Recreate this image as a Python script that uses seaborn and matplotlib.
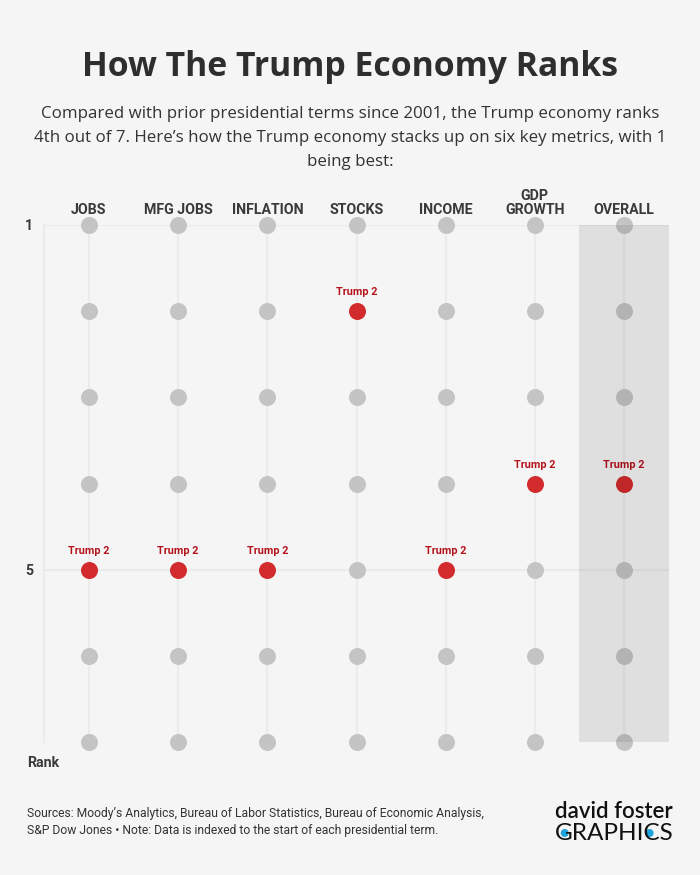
import numpy as np
import pandas as pd
import matplotlib.pyplot as plt
from matplotlib.patches import Circle
import seaborn as sns

# Data
metrics = ["JOBS", "MFG JOBS", "INFLATION", "STOCKS", "INCOME", "GDP\nGROWTH", "OVERALL"]
ranks = [1, 2, 3, 4, 5, 6, 7]
trump_rank = [5, 5, 5, 2, 5, 4, 4]
rank_ticks = [1, 5]
subtitle = [
    'Compared with prior presidential terms since 2001, the Trump economy ranks',
    '4th out of 7. Here\u2019s how the Trump economy stacks up on six key metrics, with 1',
    'being best:',
]

BG = '#f5f5f5'
DARK = '#3a3a3a'
GREY = '#c4c4c4'
RED = '#d32b2d'
RED_TXT = '#b5121b'
GRID = '#ebebeb'

sns.set_theme(style='white')
plt.rcParams['font.family'] = ['Roboto', 'DejaVu Sans']

# grid of all (metric, rank) pairs, Trump 2 points pulled out separately
grid = pd.DataFrame([(i, r) for i in range(len(metrics)) for r in ranks], columns=['col', 'rank'])
grid['trump'] = [trump_rank[c] == r for c, r in zip(grid['col'], grid['rank'])]
others = grid[~grid['trump']]
trump = grid[grid['trump']]

fig = plt.figure(figsize=(7, 8.75), dpi=100)
fig.patch.set_facecolor(BG)
ax = fig.add_axes([44.4 / 700, 1 - 742 / 875, 624.2 / 700, 517 / 875])
ax.set_facecolor(BG)

sns.scatterplot(data=others, x='col', y='rank', s=150, color=GREY,
                linewidth=0, ax=ax, clip_on=False, zorder=3)
sns.scatterplot(data=trump, x='col', y='rank', s=150, color=RED,
                linewidth=0, ax=ax, clip_on=False, zorder=4)
for _, row in trump.iterrows():
    ax.annotate('Trump 2', (row['col'], row['rank']), xytext=(0, 10), textcoords='offset points',
                ha='center', va='bottom', fontsize=7.8, fontweight='bold', color=RED_TXT, zorder=5)

# shaded overall column (drawn on top, darkens what is under it)
ax.axvspan(len(metrics) - 1.5, len(metrics) - 0.5, ymin=0, ymax=1, color='black', alpha=0.085,
           lw=0, zorder=6)

ax.set_xlim(-0.5, len(metrics) - 0.5)
ax.set_ylim(max(ranks), 1)
ax.set_xticks(range(len(metrics)))
ax.set_xticklabels(metrics, fontsize=10.2, fontweight='bold', color=DARK, linespacing=1.0)
ax.xaxis.tick_top()
ax.set_yticks(rank_ticks)
ax.set_yticklabels([str(t) for t in rank_ticks], fontsize=10.2, fontweight='bold', color=DARK)
ax.tick_params(axis='x', length=0, pad=6)
ax.tick_params(axis='y', length=0, pad=8)
ax.grid(True, color=GRID, lw=1.5, zorder=0)
ax.set_axisbelow(True)
for side in ['top', 'right', 'bottom']:
    ax.spines[side].set_visible(False)
ax.spines['left'].set_color(GRID)
ax.spines['left'].set_linewidth(1.5)
ax.set_xlabel('')
ax.set_ylabel('')

fig.text(27 / 700, 1 - 763 / 875, 'Rank', fontsize=10.2, fontweight='bold', color=DARK, va='center')

# titles
fig.text(0.5, 1 - 76 / 875, 'How The Trump Economy Ranks', ha='center', va='baseline',
         fontsize=24.3, fontweight='bold', color='#2e2e2e', family=['Open Sans', 'DejaVu Sans'])
for i, line in enumerate(subtitle):
    fig.text(0.5, 1 - (118 + 24 * i) / 875, line, ha='center', va='baseline', fontsize=12.2,
             color='#333333', family=['Open Sans', 'DejaVu Sans'])

# footer
fig.text(27 / 700, 1 - 822 / 875,
         'Sources: Moody\u2019s Analytics, Bureau of Labor Statistics, Bureau of Economic Analysis,\n'
         'S&P Dow Jones \u2022 Note: Data is indexed to the start of each presidential term.',
         ha='left', va='center', fontsize=8.75, color='#333333', linespacing=1.45)

# logo
fig.text(614 / 700, 1 - 811 / 875, 'david foster', ha='center', va='center', fontsize=16,
         color='#111111', family=['Lato', 'DejaVu Sans'], fontweight='semibold')
logo = fig.text(614 / 700, 1 - 833 / 875, 'GRAPHICS', ha='center', va='center', fontsize=17.5,
                color='#111111', family=['Lato', 'DejaVu Sans'], fontweight='normal')
fig.canvas.draw()
bb = logo.get_window_extent()
for frac in (0.085, 0.8):
    cx = bb.x0 + frac * bb.width
    cy = bb.y0 + 0.5 * bb.height
    fig.patches.append(Circle((cx, cy), 4.0, transform=None,
                              facecolor='#1fa3dc', edgecolor='none'))

fig.savefig('out.png', dpi=100, facecolor=BG)
